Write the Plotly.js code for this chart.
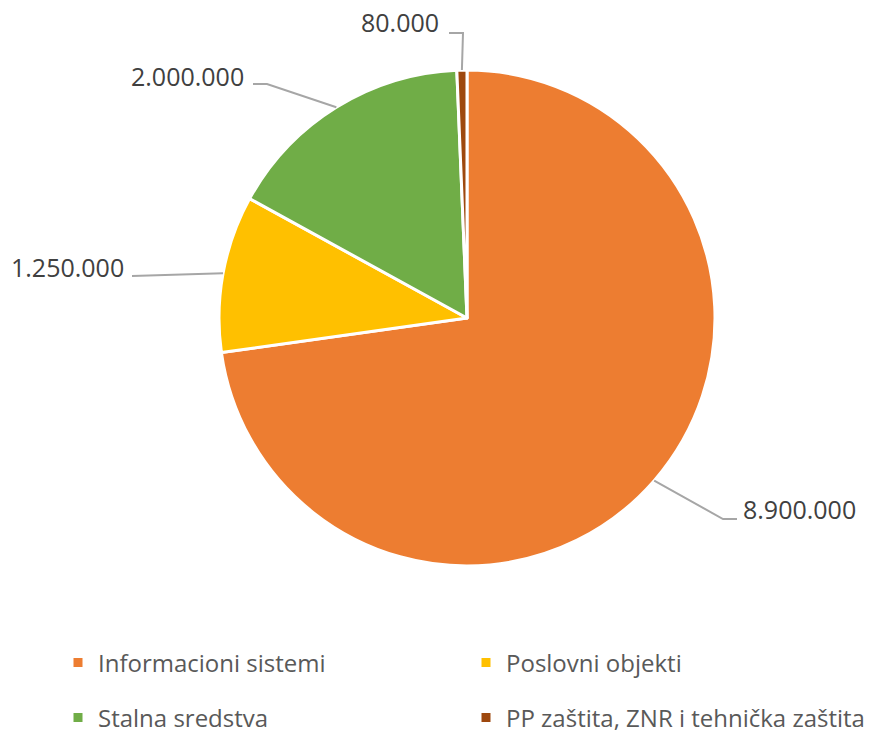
<!DOCTYPE html>
<html>
<head>
<meta charset="utf-8">
<script src="https://cdn.plot.ly/plotly-3.0.1.min.js"></script>
<style>html,body{margin:0;padding:0;background:#fff;}#chart{width:874px;height:734px;}</style>
</head>
<body>
<div id="chart"></div>
<script>
// ---- data ----
const labels = ['Informacioni sistemi', 'Poslovni objekti', 'Stalna sredstva', 'PP zaštita, ZNR i tehnička zaštita'];
const values = [8900000, 1250000, 2000000, 80000];
const colors = ['#ED7D31', '#FFC000', '#70AD47', '#9E480E'];
const legendRow = ['legend', 'legend', 'legend2', 'legend2'];

// ---- layout constants (pixels) ----
const W = 874, H = 734;
const M = {l: 0, r: 0, t: 70, b: 168};
const PW = W - M.l - M.r, PH = H - M.t - M.b;
const PIE_L = 219, PIE_R = 715;              // pie left/right edge in pixels
const CX = (PIE_L + PIE_R) / 2, CY = M.t + PH / 2, R = (PIE_R - PIE_L) / 2;

// label placement (text anchor + leader elbow points), per slice
const labelPos = [
  {tx: 741, ty: 509, anchor: 'left', pts: [[723, 519], [737, 519]]},
  {tx: 126, ty: 267, anchor: 'right', pts: [[132, 276]]},
  {tx: 246, ty: 76, anchor: 'right', pts: [[267, 84], [253, 84]]},
  {tx: 441, ty: 22, anchor: 'right', pts: [[463, 33], [449, 33]]}
];

const px2x = p => (p - M.l) / PW;
const py2y = p => (M.t + PH - p) / PH;
const fmt = v => String(v).replace(/\B(?=(\d{3})+(?!\d))/g, '.');

const total = values.reduce((a, b) => a + b, 0);
let cum = 0;
const shapes = [], annotations = [];
values.forEach((v, i) => {
  const mid = (cum + v / 2) / total * 2 * Math.PI; // clockwise from top
  cum += v;
  const sx = CX + R * Math.sin(mid), sy = CY - R * Math.cos(mid);
  const lp = labelPos[i];
  let path = 'M' + px2x(sx) + ',' + py2y(sy);
  lp.pts.forEach(p => { path += ' L' + px2x(p[0]) + ',' + py2y(p[1]); });
  shapes.push({type: 'path', xref: 'paper', yref: 'paper', path: path,
    line: {color: '#A6A6A6', width: 2}});
  annotations.push({xref: 'paper', yref: 'paper', x: px2x(lp.tx), y: py2y(lp.ty),
    xanchor: lp.anchor, yanchor: 'middle', showarrow: false, text: fmt(v),
    font: {family: 'Open Sans, sans-serif', size: 25, color: '#404040'}});
});

const traces = [{
  type: 'pie', labels: labels, values: values, sort: false, direction: 'clockwise',
  rotation: 0, textinfo: 'none', hoverinfo: 'label+value+percent', showlegend: false,
  domain: {x: [px2x(PIE_L), px2x(PIE_R)], y: [0, 1]},
  marker: {colors: colors, line: {color: '#FFFFFF', width: 3}}
}];
labels.forEach((lab, i) => {
  traces.push({type: 'scatter', mode: 'markers', x: [null], y: [null], name: lab,
    legend: legendRow[i], showlegend: true, hoverinfo: 'skip',
    marker: {symbol: 'square', size: 9, color: colors[i]}});
});

const legendBase = {
  orientation: 'h', xanchor: 'left', yanchor: 'middle', x: px2x(58),
  entrywidth: 363, entrywidthmode: 'pixels', bgcolor: 'rgba(0,0,0,0)',
  font: {family: 'Open Sans, sans-serif', size: 24, color: '#595959'}
};

const layout = {
  width: W, height: H, margin: {l: M.l, r: M.r, t: M.t, b: M.b, autoexpand: false},
  paper_bgcolor: '#FFFFFF', plot_bgcolor: '#FFFFFF',
  xaxis: {visible: false}, yaxis: {visible: false},
  legend: Object.assign({}, legendBase, {y: py2y(663)}),
  legend2: Object.assign({}, legendBase, {y: py2y(718)}),
  shapes: shapes, annotations: annotations
};

Plotly.newPlot('chart', traces, layout, {displayModeBar: false, staticPlot: true});
</script>
</body>
</html>
